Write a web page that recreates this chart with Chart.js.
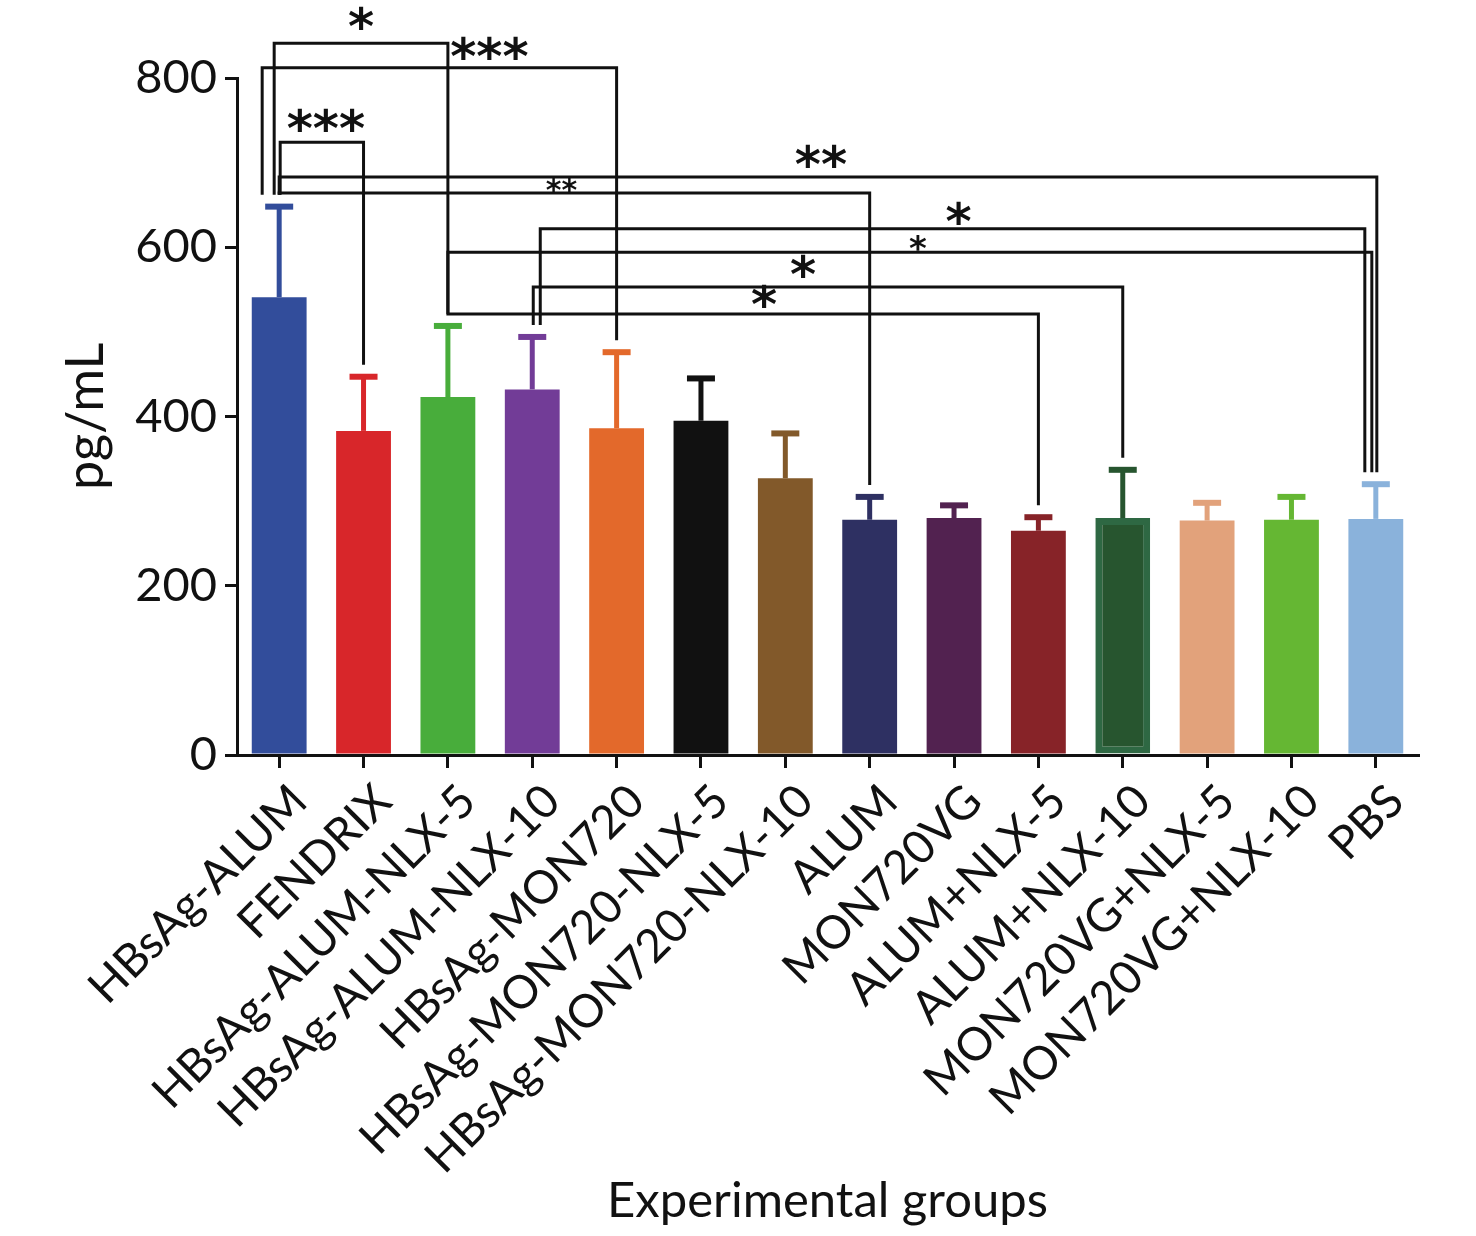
<!DOCTYPE html>
<html>
<head>
<meta charset="utf-8">
<title>pg/mL by experimental group</title>
<script src="https://cdn.jsdelivr.net/npm/chart.js@4.4.0/dist/chart.umd.min.js"></script>
<style>
  html, body { margin: 0; padding: 0; background: #fff; }
  #wrap { width: 1476px; height: 1236px; }
</style>
</head>
<body>
<div id="wrap"><canvas id="barchart" width="1476" height="1236"></canvas></div>
<script>
// groups and values (pg/mL, mean and upper SD)
const groups = ['HBsAg-ALUM', 'FENDRIX', 'HBsAg-ALUM-NLX-5', 'HBsAg-ALUM-NLX-10', 'HBsAg-MON720',
  'HBsAg-MON720-NLX-5', 'HBsAg-MON720-NLX-10', 'ALUM', 'MON720VG', 'ALUM+NLX-5',
  'ALUM+NLX-10', 'MON720VG+NLX-5', 'MON720VG+NLX-10', 'PBS'];
const means = [541, 383, 423, 432, 386, 395, 327, 278, 280, 265, 280, 277, 278, 279];
const sds = [107, 64, 84, 62, 90, 50, 53, 27, 15, 16, 57, 21, 27, 41];
const yTicks = [0, 200, 400, 600, 800];

// significance brackets: from group, to group, height (pg/mL), stars
const sigFrom = [0, 0, 0, 0, 0, 3, 2, 3, 2];
const sigTo = [2, 4, 1, 13, 7, 13, 13, 10, 9];
const sigLevel = [841, 812, 724, 683, 664, 622, 594, 553, 521];
const sigLabel = ['*', '***', '***', '**', '**', '*', '*', '*', '*'];

const barColors = ['#324d9b', '#d8262a', '#48ad3b', '#723c97', '#e3692b', '#111111', '#82592a',
  '#2e3062', '#522250', '#872328', '#27552f', '#e2a27b', '#65b733', '#8ab2db'];
const barBorders = barColors.map((c, i) => i === 10 ? '#2e6843' : c);

// drawing tweaks for the brackets (px)
const legShiftL = [-5, -17, 1, 0, 0, 8, 0, 1, 0];
const legShiftR = [0, 0, 0, 1, 0, -11, -4, 0, 0];
const starShift = [0, 50, 4, -7, -13, 6, 8, -25, 21];
const starSize = [50, 50, 50, 50, 30, 50, 34, 50, 50];
const starGap = [23, 18, 20, 19, 7, 14, 9, 19, 16];

const FONT = 'Lato, "Open Sans", sans-serif';

const extras = {
  id: 'extras',
  afterDatasetsDraw(chart) {
    const ctx = chart.ctx;
    const x = chart.scales.x, y = chart.scales.y;
    ctx.save();
    // upper error bars
    means.forEach((m, i) => {
      const cx = x.getPixelForValue(i);
      const top = y.getPixelForValue(m + sds[i]);
      const base = y.getPixelForValue(m);
      ctx.strokeStyle = barColors[i];
      ctx.lineWidth = 5;
      ctx.beginPath();
      ctx.moveTo(cx, base);
      ctx.lineTo(cx, top);
      ctx.stroke();
      ctx.lineWidth = 6;
      ctx.beginPath();
      ctx.moveTo(cx - 14, top);
      ctx.lineTo(cx + 14, top);
      ctx.stroke();
    });
    ctx.restore();
  },
  afterDraw(chart) {
    const ctx = chart.ctx;
    const x = chart.scales.x, y = chart.scales.y;
    ctx.save();
    ctx.strokeStyle = '#111';
    ctx.lineWidth = 3;
    ctx.lineCap = 'butt';
    sigFrom.forEach((a, k) => {
      const b = sigTo[k];
      const lx = x.getPixelForValue(a) + legShiftL[k];
      const rx = x.getPixelForValue(b) + legShiftR[k];
      const ly = y.getPixelForValue(sigLevel[k]);
      const lEnd = y.getPixelForValue(means[a] + sds[a]) - 12;
      const rEnd = y.getPixelForValue(means[b] + sds[b]) - 12;
      ctx.beginPath();
      ctx.moveTo(lx, lEnd);
      ctx.lineTo(lx, ly);
      ctx.lineTo(rx, ly);
      ctx.lineTo(rx, rEnd);
      ctx.stroke();
      ctx.fillStyle = '#111';
      const sz = starSize[k];
      ctx.font = 'bold ' + sz + 'px "DejaVu Sans", sans-serif';
      ctx.textAlign = 'center';
      ctx.textBaseline = 'alphabetic';
      ctx.fillText(sigLabel[k], (lx + rx) / 2 + starShift[k], ly - starGap[k] + sz * 0.48);
    });
    ctx.restore();
  }
};

new Chart(document.getElementById('barchart').getContext('2d'), {
  type: 'bar',
  data: {
    labels: groups,
    datasets: [{
      data: means,
      backgroundColor: barColors,
      borderColor: barBorders,
      borderWidth: (c) => c.dataIndex === 10 ? 7 : 0,
      borderSkipped: false,
      barPercentage: 0.65,
      categoryPercentage: 1
    }]
  },
  options: {
    responsive: false,
    animation: false,
    devicePixelRatio: 1,
    layout: { padding: { top: 78, right: 58, bottom: 0, left: 0 } },
    plugins: { legend: { display: false }, tooltip: { enabled: false } },
    scales: {
      x: {
        offset: true,
        grid: { display: true, offset: false, drawOnChartArea: false, drawTicks: true, tickLength: 13, color: '#111', lineWidth: 3 },
        border: { display: true, color: '#111', width: 3 },
        ticks: {
          autoSkip: false, minRotation: 45, maxRotation: 45, padding: 6, labelOffset: 20,
          color: '#111', font: { family: FONT, size: 46 }
        },
        title: { display: true, text: 'Experimental groups', color: '#111', font: { family: FONT, size: 49 }, padding: { top: 0, bottom: 5 } },
        afterFit(scale) { scale.height = 481; }
      },
      y: {
        min: 0, max: 800,
        afterBuildTicks(scale) { scale.ticks = yTicks.map(v => ({ value: v })); },
        grid: { display: true, drawOnChartArea: false, drawTicks: true, tickLength: 12, color: '#111', lineWidth: 3 },
        border: { display: true, color: '#111', width: 3 },
        ticks: { padding: 8, color: '#111', font: { family: FONT, size: 47 } },
        title: { display: true, text: 'pg/mL', color: '#111', font: { family: FONT, size: 52 }, padding: { top: 55, bottom: 0 } },
        afterFit(scale) { scale.width = 237; }
      }
    }
  },
  plugins: [extras]
});
</script>
</body>
</html>
